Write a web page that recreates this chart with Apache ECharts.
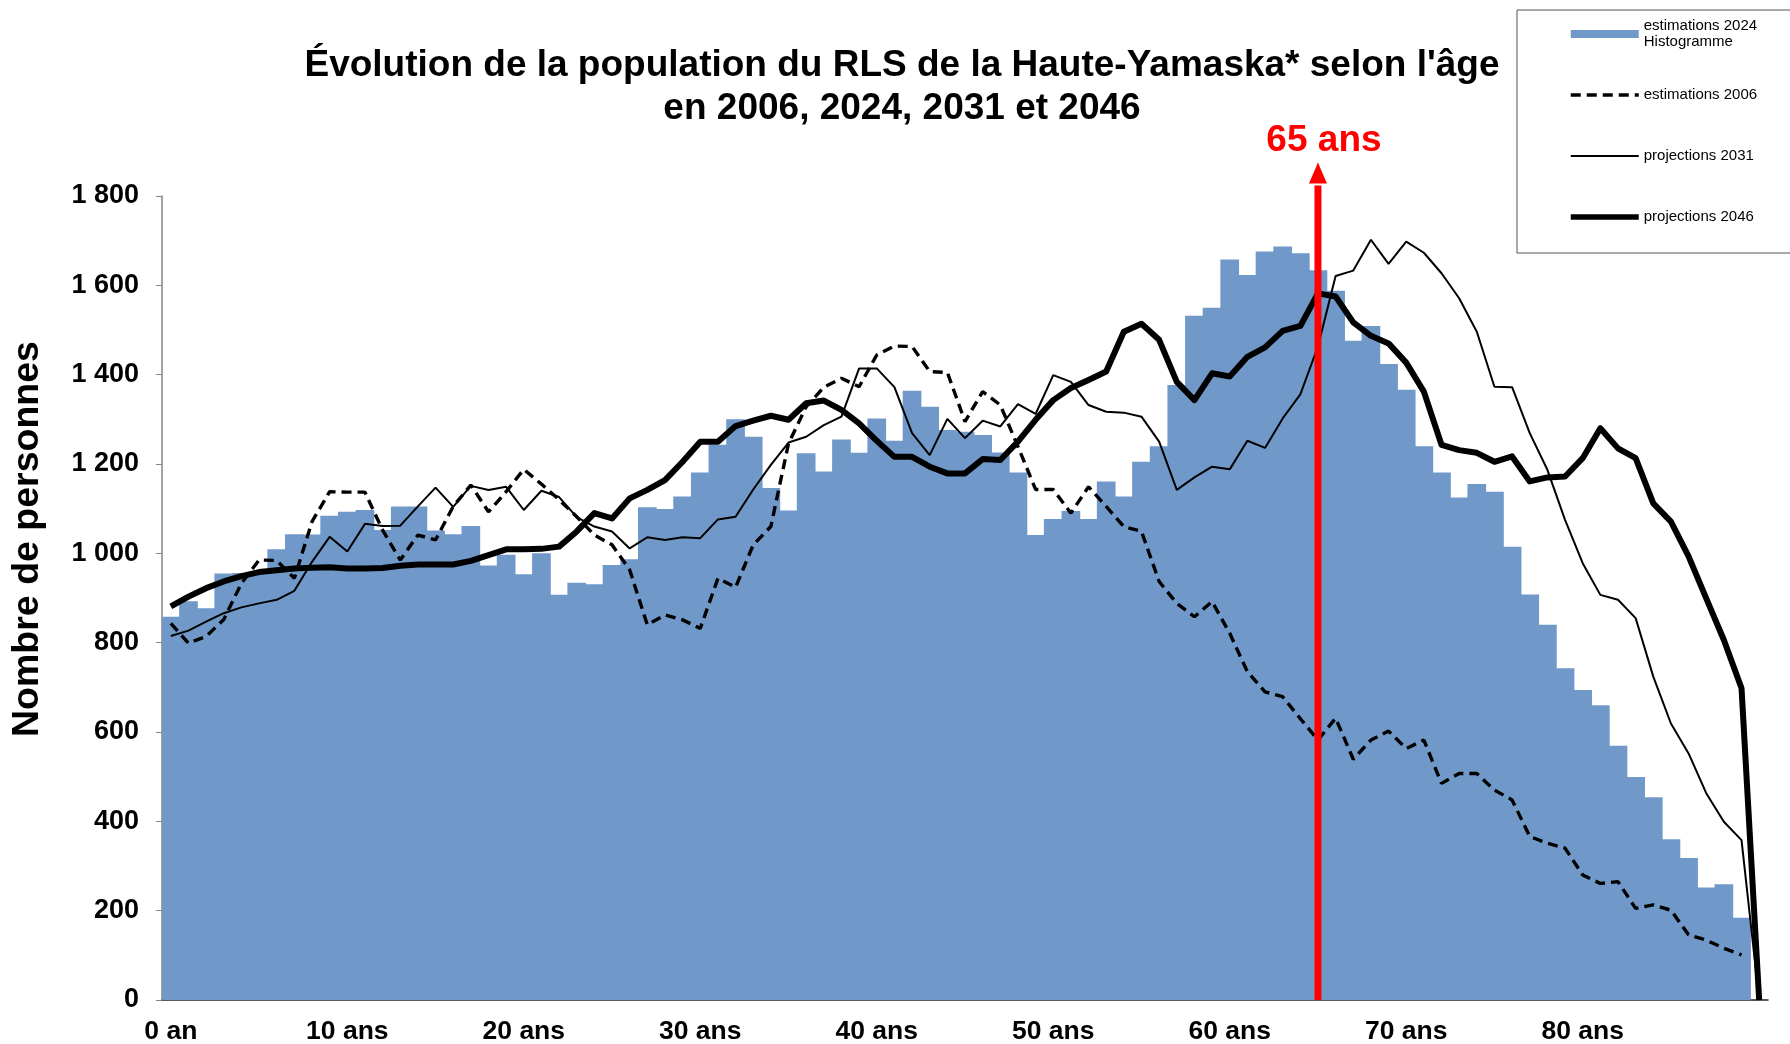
<!DOCTYPE html>
<html>
<head>
<meta charset="utf-8">
<script src="https://cdn.jsdelivr.net/npm/echarts@6/dist/echarts.min.js"></script>
<style>
  html, body { margin: 0; padding: 0; background: #fff; }
  #Chart { width: 1790px; height: 1044px; }
</style>
</head>
<body>
<div id="Chart"></div>
<script>
(function(){
    var FONT = '"Liberation Sans", Arial, sans-serif';

    // ages 0 .. 90 (one category per year)
    var ages = [];
    for (var a = 0; a <= 90; a++) ages.push(a === 0 ? '0 an' : a + ' ans');

    var yTicks = [0, 200, 400, 600, 800, 1000, 1200, 1400, 1600, 1800];

    var pop2024 = [858, 893, 877, 955, 956, 957, 1009, 1043, 1042, 1084,
        1093, 1097, 1052, 1105, 1105, 1051, 1043, 1061, 973, 997,
        953, 1000, 907, 934, 931, 974, 987, 1103, 1099, 1127,
        1181, 1243, 1300, 1261, 1146, 1096, 1224, 1183, 1255, 1225,
        1302, 1252, 1364, 1328, 1276, 1272, 1265, 1226, 1181, 1041,
        1077, 1095, 1077, 1161, 1127, 1205, 1240, 1377, 1532, 1550,
        1658, 1623, 1676, 1687, 1672, 1634, 1588, 1476, 1509, 1424,
        1366, 1240, 1181, 1125, 1155, 1138, 1015, 908, 840, 743,
        694, 660, 569, 499, 454, 360, 318, 252, 259, 184, 0];

    var pop2006 = [843, 799, 814, 852, 933, 985, 984, 944, 1071, 1138,
        1137, 1137, 1052, 985, 1041, 1030, 1105, 1153, 1093, 1138,
        1188, 1155, 1120, 1082, 1041, 1019, 963, 840, 862, 851,
        832, 944, 924, 1019, 1060, 1246, 1328, 1372, 1392, 1373,
        1444, 1464, 1463, 1407, 1405, 1295, 1362, 1332, 1239, 1143,
        1143, 1090, 1149, 1105, 1060, 1049, 937, 888, 858, 892,
        821, 735, 690, 679, 630, 582, 631, 539, 582, 602,
        563, 582, 485, 507, 507, 470, 448, 366, 351, 340,
        280, 261, 265, 205, 213, 201, 146, 134, 116, 101, null];

    var pop2031 = [815, 827, 847, 866, 879, 888, 896, 916, 981, 1037,
        1004, 1066, 1061, 1062, 1105, 1147, 1104, 1151, 1142, 1149,
        1097, 1140, 1126, 1081, 1060, 1049, 1011, 1036, 1030, 1036,
        1034, 1076, 1082, 1143, 1198, 1248, 1261, 1287, 1306, 1414,
        1414, 1372, 1269, 1220, 1301, 1258, 1297, 1284, 1334, 1312,
        1399, 1384, 1332, 1317, 1315, 1306, 1250, 1142, 1170, 1194,
        1188, 1252, 1236, 1302, 1356, 1463, 1621, 1633, 1702, 1648,
        1698, 1673, 1627, 1571, 1496, 1373, 1372, 1269, 1187, 1075,
        978, 907, 896, 855, 724, 619, 552, 463, 399, 358, 0];

    var pop2046 = [881, 903, 922, 937, 949, 958, 962, 966, 968, 969,
        966, 966, 967, 972, 975, 975, 975, 983, 996, 1009,
        1009, 1010, 1015, 1049, 1090, 1078, 1123, 1142, 1164, 1205,
        1250, 1250, 1285, 1297, 1308, 1299, 1336, 1342, 1321, 1291,
        1252, 1216, 1216, 1194, 1179, 1179, 1211, 1209, 1250, 1299,
        1343, 1370, 1388, 1407, 1496, 1514, 1478, 1384, 1343, 1403,
        1396, 1440, 1461, 1498, 1509, 1582, 1575, 1517, 1487, 1470,
        1427, 1362, 1243, 1231, 1225, 1205, 1217, 1161, 1170, 1172,
        1213, 1280, 1235, 1213, 1112, 1071, 993, 899, 806, 698, 0];

    // red marker at 65 years
    var markAge = 65;
    var markLabel = '65 ans';
    var arrowHeadBase = 1828;
    var arrowTip = 1875;

    var myChart = echarts.init(document.getElementById('Chart'));

    var noDot = { opacity: 0 };

    var option = {
        animation: false,
        textStyle: { fontFamily: FONT },
        title: {
            text: "Évolution de la population du RLS de la Haute-Yamaska* selon l'âge\nen 2006, 2024, 2031 et 2046",
            left: 902,
            top: 44,
            padding: 0,
            textAlign: 'center',
            textStyle: {
                fontFamily: FONT,
                fontSize: 37,
                fontWeight: 'bold',
                color: '#000',
                lineHeight: 43
            }
        },
        legend: {
            orient: 'vertical',
            left: 1517,
            top: 10,
            padding: [0, 40, 12, 51],
            itemWidth: 68,
            itemHeight: 8,
            itemGap: 13,
            selectedMode: false,
            borderColor: '#555',
            borderWidth: 1,
            textStyle: {
                fontFamily: FONT,
                fontSize: 15,
                color: '#000',
                lineHeight: 16,
                padding: [16, 0, 16, 0]
            },
            formatter: function (name) {
                return name === 'estimations 2024' ? 'estimations 2024\nHistogramme' : name;
            },
            data: [
                { name: 'estimations 2024', icon: 'rect', textStyle: { padding: [16, 0, 0, 0] } },
                { name: 'estimations 2006', itemStyle: noDot, lineStyle: { width: 3.4, type: [10, 6] } },
                { name: 'projections 2031', itemStyle: noDot, lineStyle: { width: 2 } },
                { name: 'projections 2046', itemStyle: noDot, lineStyle: { width: 5.5 } }
            ]
        },
        grid: {
            left: 162,
            right: 22,
            top: 196,
            bottom: 44,
            containLabel: false,
            outerBoundsMode: 'none'
        },
        xAxis: {
            type: 'category',
            data: ages,
            boundaryGap: true,
            axisLine: { lineStyle: { color: '#222', width: 1.5 } },
            axisTick: {
                length: 8,
                lineStyle: { color: '#777' },
                interval: function (index) { return index % 10 === 0; }
            },
            axisLabel: {
                margin: 18,
                fontFamily: FONT,
                fontSize: 26.5,
                fontWeight: 'bold',
                color: '#000',
                interval: function (index) { return index % 10 === 0 && index < 90; }
            },
            splitLine: { show: false }
        },
        yAxis: {
            type: 'value',
            min: yTicks[0],
            max: yTicks[yTicks.length - 1],
            interval: 200,
            name: 'Nombre de personnes',
            nameLocation: 'middle',
            nameRotate: 90,
            nameGap: 115,
            nameTextStyle: {
                fontFamily: FONT,
                fontSize: 37.5,
                fontWeight: 'bold',
                color: '#000',
                padding: [0, 0, 0, 118]
            },
            axisLine: { show: true, lineStyle: { color: '#868686', width: 1.5 } },
            axisTick: { show: true, length: 6, lineStyle: { color: '#868686' } },
            axisLabel: {
                margin: 23,
                fontFamily: FONT,
                fontSize: 27,
                fontWeight: 'bold',
                color: '#000',
                formatter: function (v) {
                    return String(v).replace(/\B(?=(\d{3})+(?!\d))/g, ' ');
                }
            },
            splitLine: { show: false }
        },
        series: [{
            name: 'estimations 2024',
            type: 'bar',
            data: pop2024,
            // slight overlap so neighbouring bars leave no seam
            barWidth: '106%',
            itemStyle: { color: '#7099CA' },
            z: 1
        }, {
            name: 'estimations 2006',
            type: 'line',
            data: pop2006,
            symbol: 'none',
            color: '#000',
            lineStyle: { color: '#000', width: 3.4, type: [10, 6] },
            z: 3
        }, {
            name: 'projections 2031',
            type: 'line',
            data: pop2031,
            symbol: 'none',
            color: '#000',
            lineStyle: { color: '#000', width: 2 },
            z: 4
        }, {
            name: 'projections 2046',
            type: 'line',
            data: pop2046,
            symbol: 'none',
            color: '#000',
            lineStyle: { color: '#000', width: 6, join: 'round' },
            z: 5
        }]
    };

    myChart.setOption(option);

    // arrow placed through the axes
    var p0 = myChart.convertToPixel({ xAxisIndex: 0, yAxisIndex: 0 }, [markAge, 0]);
    var p1 = myChart.convertToPixel({ xAxisIndex: 0, yAxisIndex: 0 }, [markAge, arrowHeadBase]);
    var p2 = myChart.convertToPixel({ xAxisIndex: 0, yAxisIndex: 0 }, [markAge, arrowTip]);

    myChart.setOption({
        graphic: [{
            type: 'line',
            z: 100,
            shape: { x1: p0[0], y1: p0[1], x2: p1[0], y2: p1[1] + 2 },
            style: { stroke: '#ff0000', lineWidth: 7 }
        }, {
            type: 'polygon',
            z: 100,
            shape: { points: [[p1[0] - 9, p1[1]], [p1[0] + 9, p1[1]], [p2[0], p2[1]]] },
            style: { fill: '#ff0000' }
        }, {
            type: 'text',
            z: 100,
            x: p2[0] + 6,
            y: p2[1] - 22,
            style: {
                text: markLabel,
                fill: '#ff0000',
                font: 'bold 37px ' + FONT,
                align: 'center',
                verticalAlign: 'middle'
            }
        }]
    });
})();
</script>
</body>
</html>
